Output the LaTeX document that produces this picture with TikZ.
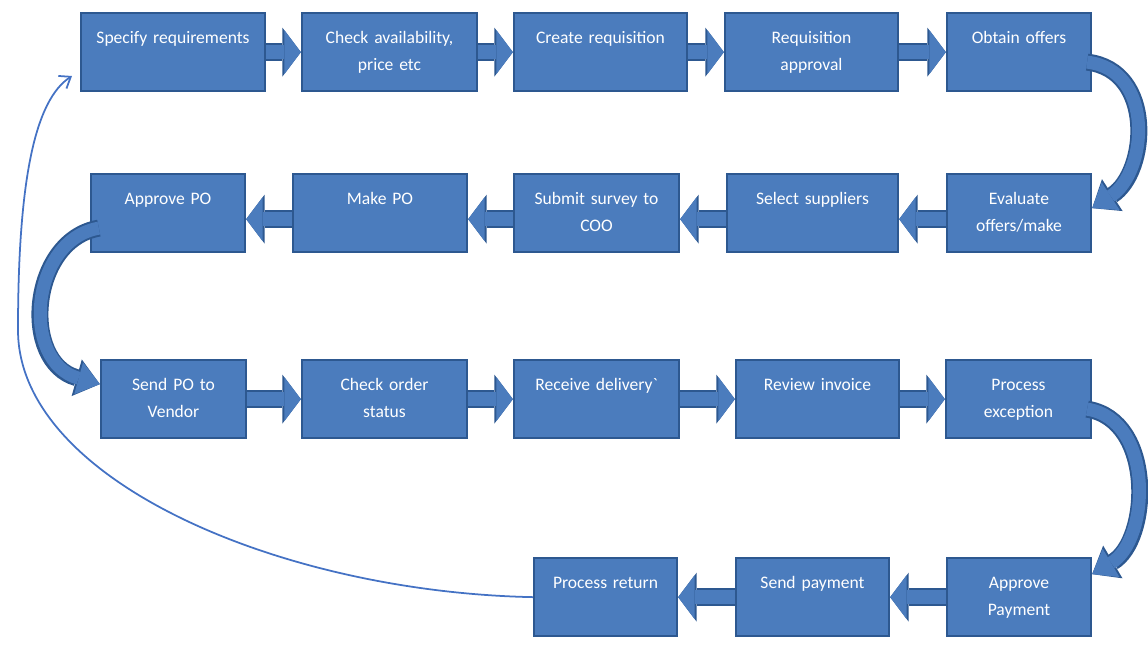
\documentclass[tikz,border=0pt]{standalone}
\usepackage{fontspec}
\setmainfont{Carlito}
\usepackage{tikz}
\usetikzlibrary{arrows.meta}
\definecolor{kutuMavi}{HTML}{4B7CBD}
\definecolor{koyuMavi}{HTML}{2D5890}
\definecolor{donusMavi}{HTML}{4472C4}
\tikzset{
  asama/.style={draw=koyuMavi,line width=1.3pt,fill=kutuMavi,text=white,anchor=north,
    inner xsep=0pt,inner ysep=0pt,align=center,font=\fontsize{10}{15.3}\selectfont,
    text height=0.6cm,text depth=0.96cm},
  blok/.style={kutuMavi,line width=0.29cm,-{Triangle[width=0.88cm,length=0.33cm,line width=0pt]},
    preaction={draw=koyuMavi,line width=0.37cm,-{Triangle[width=0.98cm,length=0.37cm,line width=0pt]}}},
  kavis/.style={kutuMavi,line width=0.26cm,-{Triangle[width=0.66cm,length=0.44cm,line width=0pt]},
    preaction={draw=koyuMavi,line width=0.34cm,-{Triangle[width=0.76cm,length=0.48cm,line width=0pt]}}}
}
\begin{document}
\begin{tikzpicture}[x=0.02cm,y=-0.02cm]
\useasboundingbox (0,0) rectangle (1148,649);
\foreach \nm/\xa/\xb/\ya/\txt in {
  sr/81/265/12/{Specify requirements}, ca/302/477/12/{Check availability,\\ price etc},
  cr/514/687/12/{Create requisition}, ra/725/898/12/{Requisition\\ approval},
  oo/947/1091/12/{Obtain offers},
  ap/91/245/173/{Approve PO}, mp/293/467/173/{Make PO},
  ss/514/679/173/{Submit survey to\\ COO}, ssup/727/898/173/{Select suppliers},
  eo/947/1091/173/{Evaluate\\ offers/make},
  spo/101/246/359/{Send PO to\\ Vendor}, cos/302/467/359/{Check order\\ status},
  rd/514/679/359/{Receive delivery\textasciigrave}, ri/736/899/359/{Review invoice},
  pe/946/1091/359/{Process\\ exception},
  pr/534/677/557/{Process return}, sp/736/889/557/{Send payment},
  apay/947/1091/557/{Approve\\ Payment}}{
  \pgfmathsetmacro{\kutuGen}{(\xb-\xa)*0.02}
  \node[asama,minimum width=\kutuGen cm,text width=\kutuGen cm] (\nm) at ({(\xa+\xb)/2},\ya) {\txt};
}
\foreach \a/\b in {sr/ca,ca/cr,cr/ra,ra/oo,spo/cos,cos/rd,rd/ri,ri/pe}
  \draw[blok] (\a.east) -- (\b.west);
\foreach \a/\b in {eo/ssup,ssup/ss,ss/mp,mp/ap}
  \draw[blok] ([yshift=-0.12cm]\a.west) -- ([yshift=-0.12cm]\b.east);
\foreach \a/\b in {apay/sp,sp/pr}
  \draw[blok] (\a.west) -- (\b.east);
\draw[kavis] ([xshift=-0.1cm,yshift=-0.2cm]oo.east) .. controls (1155,70) and (1148,172) .. ([yshift=0.1cm]eo.east);
\draw[kavis] ([xshift=0.18cm,yshift=-0.3cm]ap.west) .. controls (30,240) and (20,362) .. ([yshift=0.3cm]spo.west);
\draw[kavis] ([xshift=-0.1cm,yshift=-0.2cm]pe.east) .. controls (1155,420) and (1150,540) .. ([yshift=0.46cm]apay.east);
\coordinate (donus) at (72,76);
\draw[donusMavi,line width=1pt,-{Straight Barb[length=0.2cm,width=0.3cm]}] (pr.west)
  .. controls (280,592) and (18,480) .. (18,330) .. controls (18,180) and (35,100) .. (donus);
\end{tikzpicture}
\end{document}
